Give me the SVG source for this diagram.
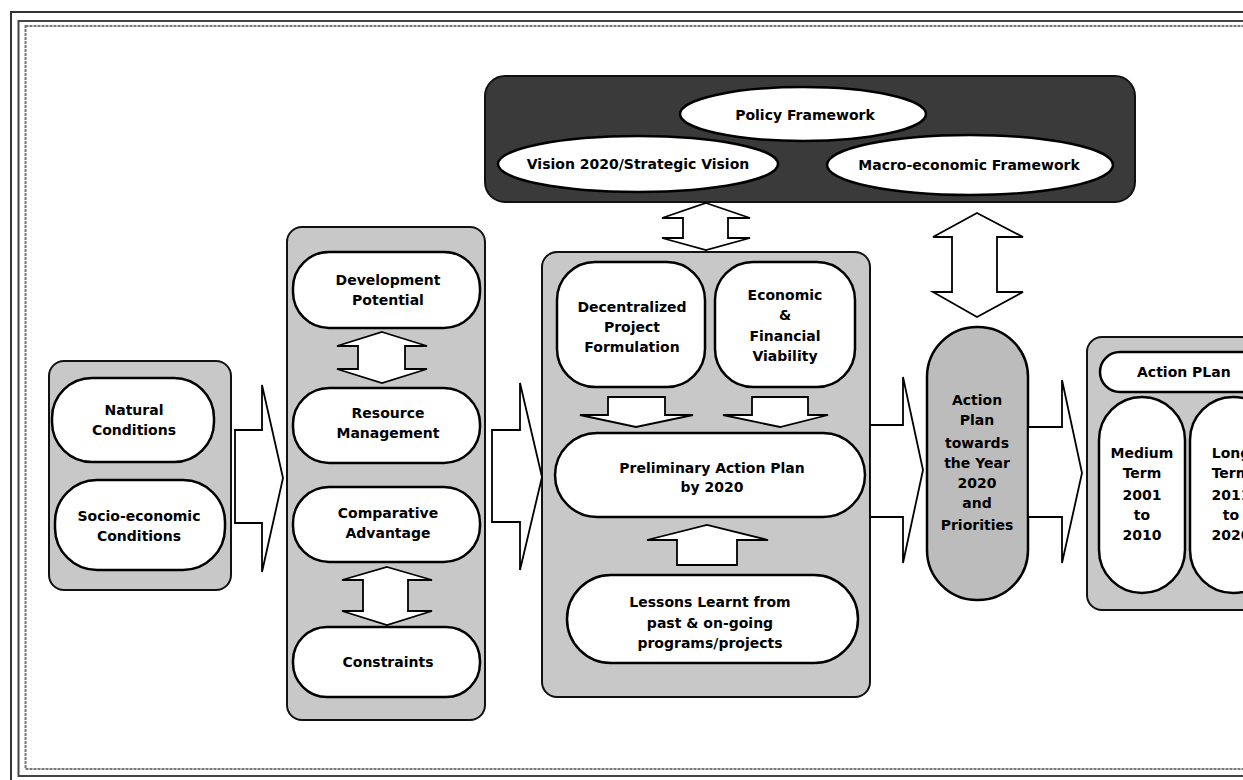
<svg xmlns="http://www.w3.org/2000/svg" width="1243" height="780" viewBox="0 0 1243 780">
<style>
.frame{fill:none;stroke-width:2}
.box{fill:#c8c8c8;stroke:#111;stroke-width:2}
.dark{fill:#3a3a3a;stroke:#111;stroke-width:2}
.pill{fill:#fff;stroke:#000;stroke-width:2.5}
.gpill{fill:#bcbcbc;stroke:#000;stroke-width:2.5}
.arrow{fill:#fff;stroke:#000;stroke-width:1.8;stroke-linejoin:miter}
text{font-family:"DejaVu Sans","Liberation Sans",sans-serif;font-weight:bold;font-size:14px;text-anchor:middle;fill:#000}
</style>
<rect width="1243" height="780" fill="#fff"/>
<g id="frame">
<rect class="frame" x="11" y="12" width="1260" height="800" stroke="#333"/>
<rect class="frame" x="18.5" y="21" width="1250" height="755" stroke="#444"/>
<rect class="frame" x="25.5" y="26" width="1240" height="743" stroke="#777" stroke-dasharray="3 1"/>
</g>
<g id="policy">
<rect class="dark" x="485" y="76" width="650" height="126" rx="20"/>
<ellipse class="pill" cx="638" cy="164" rx="140" ry="28"/>
<ellipse class="pill" cx="970" cy="165" rx="143" ry="30"/>
<ellipse class="pill" cx="803" cy="114" rx="123" ry="27"/>
<text x="805" y="120">Policy Framework</text>
<text x="638" y="169">Vision 2020/Strategic Vision</text>
<text x="969" y="170">Macro-economic Framework</text>
</g>
<g id="conditions">
<rect class="box" x="49" y="361" width="182" height="229" rx="15"/>
<rect class="pill" x="52" y="378" width="162" height="84" rx="40"/>
<text x="134" y="415">Natural</text>
<text x="134" y="435">Conditions</text>
<rect class="pill" x="55" y="480" width="170" height="90" rx="42"/>
<text x="139" y="521">Socio-economic</text>
<text x="139" y="541">Conditions</text>
</g>
<g id="potential">
<rect class="box" x="287" y="227" width="198" height="493" rx="15"/>
<rect class="pill" x="293" y="252" width="187" height="76" rx="36"/>
<text x="388" y="285">Development</text>
<text x="388" y="305">Potential</text>
<rect class="pill" x="293" y="388" width="187" height="75" rx="36"/>
<text x="388" y="418">Resource</text>
<text x="388" y="438">Management</text>
<rect class="pill" x="293" y="487" width="187" height="75" rx="36"/>
<text x="388" y="518">Comparative</text>
<text x="388" y="538">Advantage</text>
<rect class="pill" x="293" y="627" width="187" height="70" rx="34"/>
<text x="388" y="667">Constraints</text>
</g>
<g id="preliminary">
<rect class="box" x="542" y="252" width="328" height="445" rx="15"/>
<rect class="pill" x="557" y="262" width="148" height="125" rx="38"/>
<text x="632" y="312">Decentralized</text>
<text x="632" y="332">Project</text>
<text x="632" y="352">Formulation</text>
<rect class="pill" x="715" y="262" width="140" height="125" rx="38"/>
<text x="785" y="300">Economic</text>
<text x="785" y="320">&amp;</text>
<text x="785" y="341">Financial</text>
<text x="785" y="361">Viability</text>
<rect class="pill" x="555" y="433" width="310" height="84" rx="42"/>
<text x="712" y="473">Preliminary Action Plan</text>
<text x="712" y="492">by 2020</text>
<rect class="pill" x="567" y="575" width="291" height="88" rx="44"/>
<text x="710" y="607">Lessons Learnt from</text>
<text x="710" y="628">past &amp; on-going</text>
<text x="710" y="648">programs/projects</text>
</g>
<g id="action-2020">
<rect class="gpill" x="927" y="327" width="101" height="273" rx="50"/>
<text x="977" y="405">Action</text>
<text x="977" y="425">Plan</text>
<text x="977" y="448">towards</text>
<text x="977" y="468">the Year</text>
<text x="977" y="488">2020</text>
<text x="977" y="508">and</text>
<text x="977" y="530">Priorities</text>
</g>
<g id="action-plan">
<rect class="box" x="1087" y="337" width="220" height="273" rx="15"/>
<rect class="pill" x="1100" y="352" width="190" height="40" rx="20"/>
<text x="1137" y="377" style="text-anchor:start">Action PLan</text>
<rect class="pill" x="1099" y="397" width="86" height="196" rx="43"/>
<text x="1142" y="458">Medium</text>
<text x="1142" y="478">Term</text>
<text x="1142" y="500">2001</text>
<text x="1142" y="520">to</text>
<text x="1142" y="540">2010</text>
<rect class="pill" x="1190" y="397" width="86" height="196" rx="43"/>
<text x="1231" y="458">Long</text>
<text x="1231" y="478">Term</text>
<text x="1231" y="500">2011</text>
<text x="1231" y="520">to</text>
<text x="1231" y="540">2020</text>
</g>
<g id="connectors">
<polygon class="arrow" points="235,430 262,430 262,385 283,478 262,572 262,523 235,523"/>
<polygon class="arrow" points="492,430 520,430 520,383 542,477 520,570 520,522 492,522"/>
<polygon class="arrow" points="870,425 903,425 903,377 923,470 903,563 903,517 870,517"/>
<polygon class="arrow" points="1028,427 1062,427 1062,380 1082,473 1062,563 1062,517 1028,517"/>
<polygon class="arrow" points="706,203 750,218 728,218 728,238 750,238 706,250 662,238 683,238 683,218 662,218"/>
<polygon class="arrow" points="977,213 1023,237 997,237 997,292 1023,292 977,317 933,292 952,292 952,237 933,237"/>
<polygon class="arrow" points="382,332 427,346 405,346 405,369 427,369 382,383 337,369 358,369 358,346 337,346"/>
<polygon class="arrow" points="387,567 432,580 408,580 408,611 432,611 387,625 342,611 363,611 363,580 342,580"/>
<polygon class="arrow" points="608,397 665,397 665,415 693,415 636,427 580,415 608,415"/>
<polygon class="arrow" points="752,397 808,397 808,415 828,415 780,427 723,415 752,415"/>
<polygon class="arrow" points="677,565 737,565 737,540 768,540 707,525 647,540 677,540"/>
</g>
</svg>
